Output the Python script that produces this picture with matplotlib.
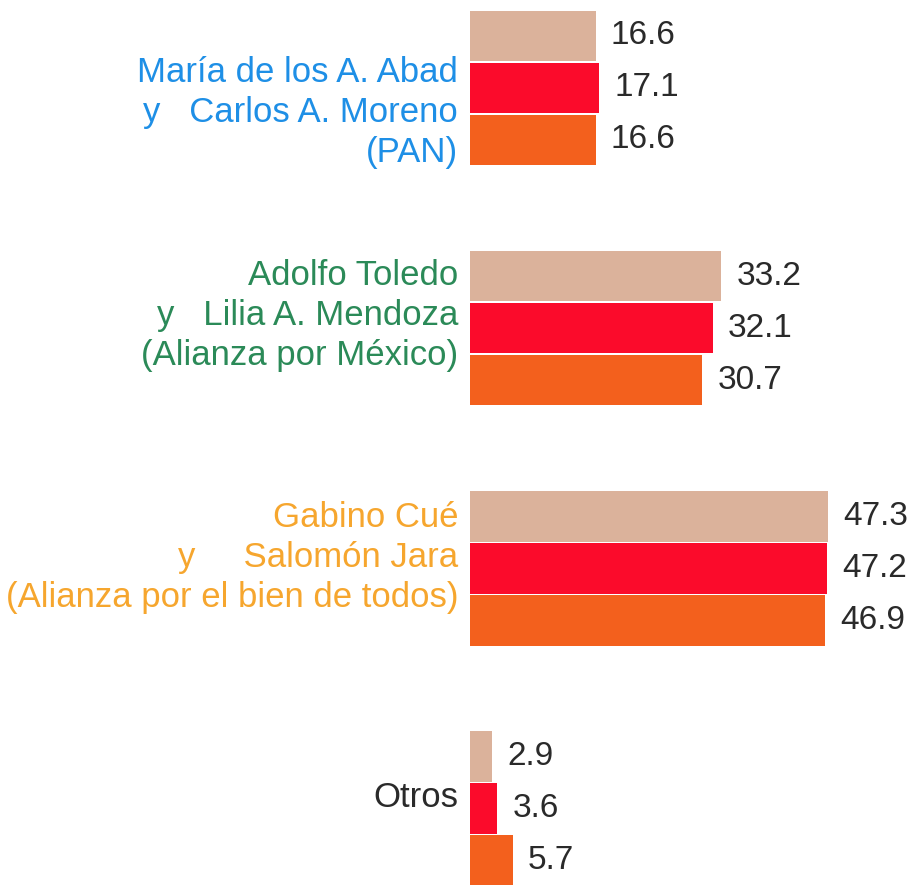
#!/usr/bin/env python3
"""
Horizontal grouped bars: vote share per candidate pair (three series)
"""
import numpy as np
import matplotlib
matplotlib.use("Agg")
import matplotlib.pyplot as plt

plt.rcParams["font.family"] = ["Liberation Sans", "DejaVu Sans"]

# data
candidates = [
    "María de los A. Abad\ny   Carlos A. Moreno\n(PAN)",
    "Adolfo Toledo\ny   Lilia A. Mendoza\n(Alianza por México)",
    "Gabino Cué\ny     Salomón Jara\n(Alianza por el bien de todos)",
    "Otros",
]
serie_1 = [16.6, 33.2, 47.3, 2.9]
serie_2 = [17.1, 32.1, 47.2, 3.6]
serie_3 = [16.6, 30.7, 46.9, 5.7]

label_colors = ["#1e8fe6", "#2b8a58", "#f6a62e", "#2a2a2a"]
bar_colors = ["#dbb29b", "#fb0b2b", "#f3601d"]
label_shift = [0.48, -0.24, -0.22, -0.22]  # vertical nudge of the left labels

GROUP_STEP = 4.62
BAR_H = 0.97


def main():
    fig = plt.figure(figsize=(9.11, 8.85), dpi=100)
    ax = fig.add_axes([470 / 911, 0, 441 / 911, 1])

    centers = np.arange(len(candidates)) * GROUP_STEP
    for k, (vals, col) in enumerate(zip([serie_1, serie_2, serie_3], bar_colors)):
        ys = centers + (k - 1)
        ax.barh(ys, vals, height=BAR_H, color=col, linewidth=0)
        for v, y in zip(vals, ys):
            ax.annotate("{:.1f}".format(v), xy=(v, y), xytext=(15, 0),
                        textcoords="offset pixels", va="center", ha="left",
                        fontsize=24, color="#2a2a2a")

    for name, y, col, dy in zip(candidates, centers, label_colors, label_shift):
        ax.text(-0.027, y + dy, name, transform=ax.get_yaxis_transform(),
                ha="right", va="center", multialignment="right",
                fontsize=25, color=col, linespacing=1.27)

    ax.set_xlim(0, 441 / 7.57)
    top = -88 / 52
    ax.set_ylim(top + 885 / 52, top)
    ax.axis("off")
    fig.savefig("out.png", dpi=100, facecolor="white")


if __name__ == "__main__":
    main()
